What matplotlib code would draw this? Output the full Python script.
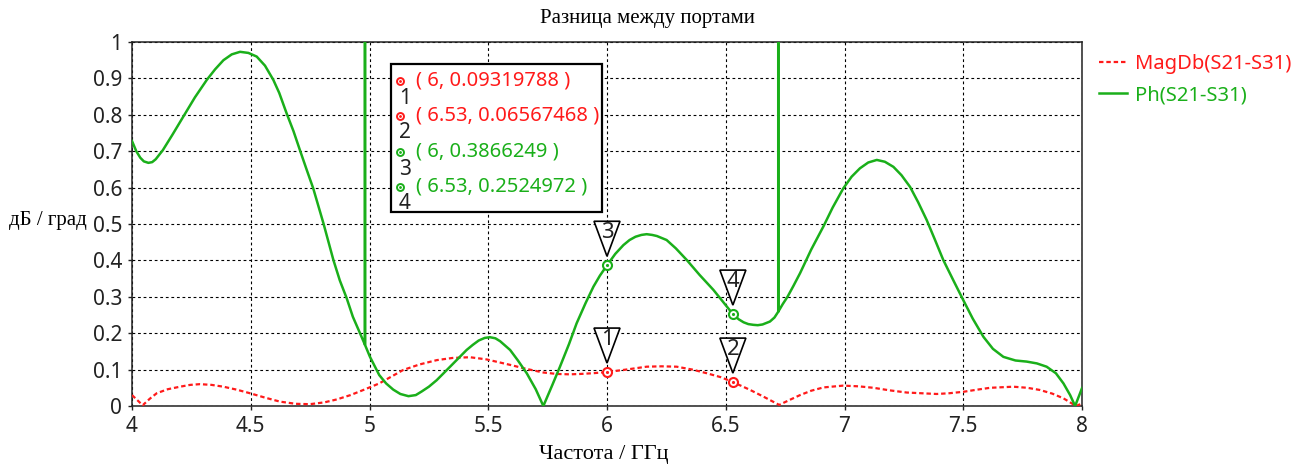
import matplotlib
matplotlib.use("Agg")
import matplotlib.pyplot as plt
import matplotlib.transforms as mtransforms
from matplotlib.patches import Polygon, Rectangle

# MagDb(S21-S31)
freq_mag = [4.0, 4.045, 4.075, 4.104, 4.15, 4.202, 4.245, 4.286, 4.335, 4.385,
            4.44, 4.497, 4.56, 4.623, 4.69, 4.749, 4.81, 4.862, 4.92, 4.974,
            5.041, 5.09, 5.142, 5.21, 5.283, 5.35, 5.423, 5.493, 5.592, 5.66,
            5.732, 5.79, 5.844, 5.886, 5.94, 6.0, 6.08, 6.167, 6.23, 6.293,
            6.36, 6.42, 6.48, 6.53, 6.6, 6.658, 6.725, 6.77, 6.813, 6.86,
            6.911, 6.995, 7.06, 7.122, 7.19, 7.262, 7.388, 7.44, 7.5, 7.56,
            7.613, 7.711, 7.77, 7.823, 7.875, 7.922, 7.975, 8.0]
mag = [0.030, 0.002, 0.020, 0.035, 0.046, 0.053, 0.058, 0.060, 0.058, 0.053,
       0.045, 0.035, 0.023, 0.012, 0.006, 0.005, 0.010, 0.018, 0.030, 0.044,
       0.062, 0.080, 0.099, 0.114, 0.126, 0.132, 0.134, 0.128, 0.113, 0.102,
       0.092, 0.088, 0.087, 0.088, 0.090, 0.0932, 0.100, 0.108, 0.109, 0.108,
       0.100, 0.090, 0.079, 0.0657, 0.045, 0.026, 0.003, 0.017, 0.030, 0.042,
       0.051, 0.056, 0.054, 0.050, 0.043, 0.037, 0.033, 0.035, 0.039, 0.045,
       0.050, 0.053, 0.050, 0.044, 0.034, 0.021, 0.0, 0.007]

# Ph(S21-S31), two phase-wrap spikes (360) at 4.981 and 6.721
freq_ph = [4.0, 4.018, 4.035, 4.05, 4.069, 4.085, 4.1, 4.13, 4.17, 4.216,
           4.265, 4.315, 4.35, 4.385, 4.42, 4.455, 4.49, 4.525, 4.56, 4.595,
           4.62, 4.651, 4.68, 4.707, 4.735, 4.763, 4.806, 4.848, 4.875, 4.904,
           4.93, 4.96, 4.981, 4.981, 4.981, 5.002, 5.041, 5.07, 5.1, 5.13,
           5.164, 5.195, 5.22, 5.25, 5.283, 5.35, 5.409, 5.435, 5.46, 5.485,
           5.507, 5.53, 5.55, 5.592, 5.625, 5.662, 5.70, 5.732, 5.77, 5.802,
           5.84, 5.872, 5.91, 5.943, 5.97, 6.0, 6.035, 6.069, 6.095, 6.12,
           6.145, 6.167, 6.19, 6.21, 6.251, 6.29, 6.336, 6.39, 6.448, 6.49,
           6.53, 6.555, 6.575, 6.595, 6.616, 6.635, 6.655, 6.686, 6.705, 6.721,
           6.721, 6.721, 6.74, 6.76, 6.785, 6.813, 6.86, 6.911, 6.95, 6.995,
           7.03, 7.065, 7.10, 7.136, 7.17, 7.206, 7.24, 7.276, 7.31, 7.346,
           7.38, 7.416, 7.46, 7.5, 7.54, 7.585, 7.625, 7.669, 7.72, 7.767,
           7.81, 7.851, 7.89, 7.922, 7.95, 7.971, 8.0]
ph = [0.728, 0.700, 0.682, 0.672, 0.668, 0.670, 0.678, 0.703, 0.745, 0.795,
      0.848, 0.896, 0.925, 0.950, 0.966, 0.973, 0.970, 0.960, 0.935, 0.896,
      0.860, 0.804, 0.755, 0.703, 0.650, 0.598, 0.502, 0.401, 0.345, 0.296,
      0.245, 0.200, 0.168, 360.0, 0.168, 0.135, 0.085, 0.062, 0.045, 0.033,
      0.027, 0.030, 0.040, 0.053, 0.071, 0.115, 0.154, 0.168, 0.180, 0.187,
      0.189, 0.186, 0.178, 0.154, 0.125, 0.090, 0.046, 0.0, 0.058, 0.108,
      0.170, 0.227, 0.283, 0.328, 0.358, 0.3866, 0.418, 0.442, 0.456, 0.465,
      0.470, 0.472, 0.470, 0.467, 0.456, 0.433, 0.401, 0.360, 0.319, 0.285,
      0.2525, 0.238, 0.230, 0.225, 0.223, 0.222, 0.224, 0.232, 0.243, 0.259,
      360.0, 0.259, 0.280, 0.300, 0.330, 0.365, 0.430, 0.493, 0.545, 0.598,
      0.630, 0.653, 0.669, 0.676, 0.671, 0.657, 0.634, 0.602, 0.560, 0.511,
      0.458, 0.401, 0.343, 0.291, 0.240, 0.190, 0.157, 0.135, 0.125, 0.122,
      0.117, 0.108, 0.090, 0.062, 0.030, 0.0, 0.049]

# markers
marker_ids = ['1', '2', '3', '4']
marker_freq = [6, 6.53, 6, 6.53]
marker_val = [0.09319788, 0.06567468, 0.3866249, 0.2524972]
marker_series = ['mag', 'mag', 'ph', 'ph']

red = '#ff1a1a'
green = '#1aaf1a'
colors = {'mag': red, 'ph': green}

sans = ['Noto Sans', 'DejaVu Sans']
serif = ['Liberation Serif', 'DejaVu Serif']

W, H = 1308, 467
fig = plt.figure(figsize=(W / 100, H / 100), dpi=100)
ax = fig.add_axes([132 / W, 1 - 406 / H, 950 / W, 364 / H])

l1, = ax.plot(freq_mag, mag, color=red, lw=1.6, linestyle=(0, (2, 1.3)),
              label='MagDb(S21-S31)', zorder=3)
l2, = ax.plot(freq_ph, ph, color=green, lw=1.8, label='Ph(S21-S31)', zorder=3,
              solid_joinstyle='round')

ax.set_xlim(4, 8)
ax.set_ylim(0, 1)
ax.set_xticks([4, 4.5, 5, 5.5, 6, 6.5, 7, 7.5, 8])
ax.set_yticks([i / 10 for i in range(11)])
ax.xaxis.set_major_formatter(plt.FormatStrFormatter('%g'))
ax.yaxis.set_major_formatter(plt.FormatStrFormatter('%g'))
ax.grid(True, color='black', lw=0.8, linestyle=(0, (2.5, 2.5)))
ax.tick_params(direction='out', length=3, width=1, pad=4, labelsize=15,
               colors='#222222')
for lab in ax.get_xticklabels() + ax.get_yticklabels():
    lab.set_family(sans)
for s in ax.spines.values():
    s.set_linewidth(1.1)
    s.set_color('#222222')

# marker points and triangle flags
for mid, f, v, ser in zip(marker_ids, marker_freq, marker_val, marker_series):
    c = colors[ser]
    ax.plot([f], [v], 'o', ms=6.5, mfc='white', mec=c, mew=1.5, zorder=5)
    ax.plot([f], [v], '.', ms=2.5, color=c, zorder=6)
    tr = fig.dpi_scale_trans + mtransforms.ScaledTranslation(f, v, ax.transData)
    tri = Polygon([(0, 0.09), (-0.13, 0.44), (0.13, 0.44)], closed=True,
                  fc='white', ec='black', lw=1.2, transform=tr, zorder=7,
                  clip_on=False)
    ax.add_patch(tri)
    ax.text(0, 0.33, mid, transform=tr, ha='center', va='center', fontsize=16,
            family=sans, color='#222222', zorder=8)

# marker readout box
box = Rectangle((0.2726, 0.533), 0.2221, 0.4066, transform=ax.transAxes,
                fc='white', ec='black', lw=1.6, zorder=9)
ax.add_patch(box)
row_y = [0.893, 0.797, 0.698, 0.602]
for mid, f, v, ser, y in zip(marker_ids, marker_freq, marker_val, marker_series, row_y):
    c = colors[ser]
    ax.plot([0.282], [y], 'o', ms=5, mfc='white', mec=c, mew=1.4,
            transform=ax.transAxes, zorder=10, clip_on=False)
    ax.plot([0.282], [y], '.', ms=2, color=c, transform=ax.transAxes, zorder=11)
    ax.text(0.287, y - 0.047, mid, transform=ax.transAxes, ha='center', va='center',
            fontsize=15, family=sans, color='#222222', zorder=11)
    ax.text(0.2985, y, '( %g, %s )' % (f, v), transform=ax.transAxes,
            ha='left', va='center', fontsize=14.5, family=sans, color=c, zorder=11)

leg = fig.legend(handles=[l1, l2], loc='upper left',
                 bbox_to_anchor=(1081 / W, 1 - 36 / H), frameon=False,
                 prop={'family': sans, 'size': 14.5}, labelcolor='linecolor',
                 handlelength=1.4, handletextpad=0.4, labelspacing=0.55)

fig.text(0.495, 1 - 18 / H, 'Разница между портами', ha='center', va='center',
         family=serif, fontsize=15)
fig.text(48 / W, 1 - 220 / H, 'дБ / град', ha='center', va='center',
         family=serif, fontsize=15)
fig.text(604 / W, 1 - 455 / H, 'Частота / ГГц', ha='center', va='center',
         family=serif, fontsize=16)

fig.savefig('out.png', dpi=100)
